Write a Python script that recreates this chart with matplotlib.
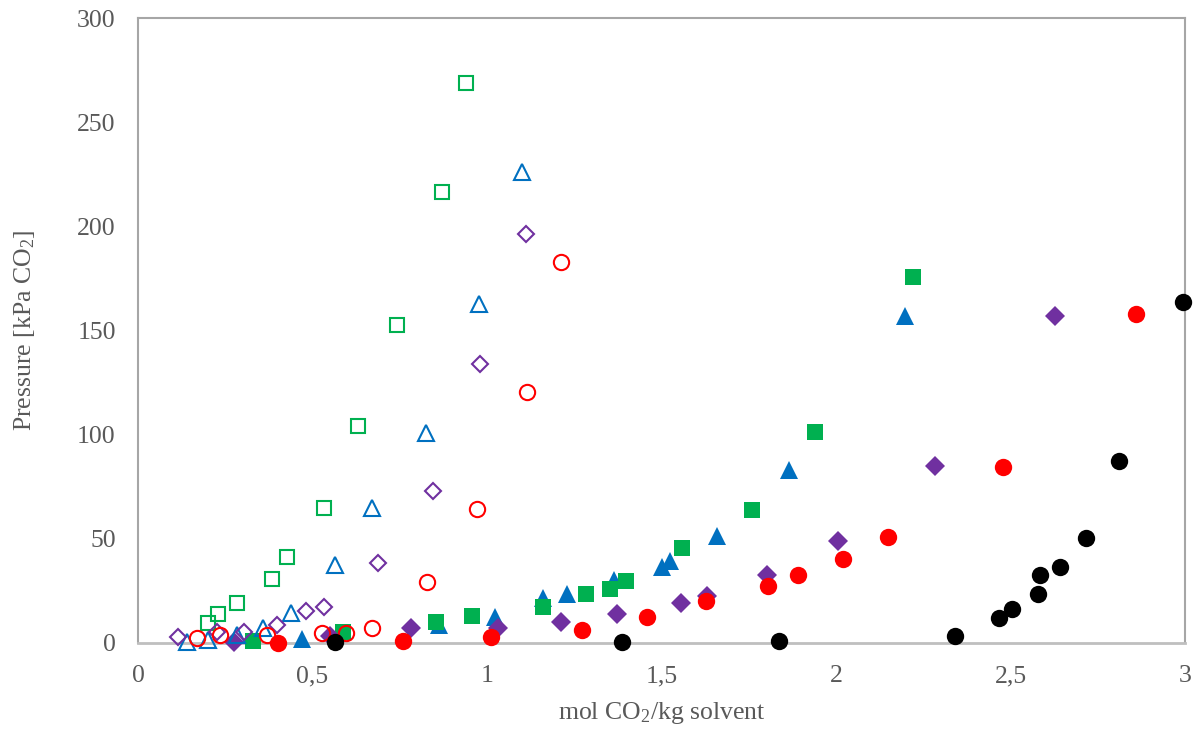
import matplotlib
matplotlib.use("Agg")
import matplotlib.pyplot as plt
from matplotlib.ticker import FixedLocator, FuncFormatter

plt.rcParams['font.family'] = ['Liberation Serif', 'DejaVu Serif']
plt.rcParams['mathtext.fontset'] = 'custom'
plt.rcParams['mathtext.rm'] = 'Liberation Serif'

# open symbols (lower loadings)
open_sq_x = [0.20, 0.229, 0.284, 0.384, 0.427, 0.533, 0.630, 0.742, 0.871, 0.940]
open_sq_p = [9.6, 13.9, 19.2, 30.7, 41.3, 64.8, 104.2, 152.6, 216.5, 268.8]

open_tri_x = [0.14, 0.20, 0.284, 0.358, 0.438, 0.565, 0.670, 0.825, 0.977, 1.100]
open_tri_p = [0.5, 1.4, 3.8, 7.2, 14.4, 37.4, 64.8, 100.8, 162.7, 226.0]

open_dia_x = [0.115, 0.227, 0.303, 0.397, 0.481, 0.533, 0.688, 0.845, 0.980, 1.112]
open_dia_p = [2.9, 5.3, 5.3, 8.6, 15.4, 17.3, 38.4, 73.0, 134.0, 196.3]

open_cir_x = [0.169, 0.235, 0.370, 0.527, 0.596, 0.670, 0.828, 0.971, 1.115, 1.212]
open_cir_p = [2.4, 3.8, 3.8, 4.8, 4.8, 7.2, 29.3, 64.3, 120.5, 182.9]

# filled symbols
tri_x = [0.470, 0.862, 1.023, 1.160, 1.229, 1.364, 1.501, 1.524, 1.659, 1.865, 2.198]
tri_p = [2.0, 8.5, 12.5, 21.6, 23.5, 30.2, 36.5, 39.4, 51.4, 83.0, 157.0]

sq_x = [0.330, 0.587, 0.854, 0.957, 1.160, 1.284, 1.352, 1.398, 1.559, 1.759, 1.940, 2.221]
sq_p = [1.0, 5.3, 10.1, 13.0, 17.3, 23.5, 25.9, 29.8, 45.6, 63.8, 101.3, 175.7]

dia_x = [0.275, 0.55, 0.782, 1.032, 1.212, 1.372, 1.556, 1.630, 1.802, 2.006, 2.284, 2.628]
dia_p = [0.5, 3.4, 7.2, 7.2, 10.1, 13.9, 19.2, 22.6, 32.6, 49.0, 85.0, 157.0]

cir_x = [0.401, 0.759, 1.011, 1.272, 1.458, 1.628, 1.805, 1.891, 2.020, 2.149, 2.479, 2.860]
cir_p = [0.0, 1.0, 2.9, 6.2, 12.5, 20.2, 27.4, 32.6, 40.3, 50.9, 84.5, 157.9]

blk_x = [0.564, 1.387, 1.837, 2.341, 2.467, 2.504, 2.579, 2.585, 2.642, 2.716, 2.811, 2.994]
blk_p = [0.5, 0.5, 1.0, 3.4, 12.0, 16.3, 23.5, 32.6, 36.5, 50.4, 87.4, 163.7]

GREEN = '#00B050'
BLUE = '#0070C0'
PURPLE = '#7030A0'
RED = '#FF0000'
BLACK = '#000000'

fig = plt.figure(figsize=(12.02, 7.32), dpi=100)
ax = fig.add_axes([0.1148, 0.1216, 0.8711, 0.8538])

ax.plot(tri_x, tri_p, '^', color=BLUE, ms=13, mew=0, zorder=3, clip_on=False)
ax.plot(sq_x, sq_p, 's', color=GREEN, ms=12, mew=0, zorder=4, clip_on=False)
ax.plot(dia_x, dia_p, 'D', color=PURPLE, ms=10, mew=0, zorder=5, clip_on=False)
ax.plot(cir_x, cir_p, 'o', color=RED, ms=12.5, mew=0, zorder=6, clip_on=False)

ax.plot(open_sq_x, open_sq_p, 's', mfc='none', mec=GREEN, ms=10.5, mew=1.5, zorder=7, clip_on=False)
ax.plot(open_tri_x, open_tri_p, '^', mfc='none', mec=BLUE, ms=12, mew=1.5, zorder=8, clip_on=False)
ax.plot(open_dia_x, open_dia_p, 'D', mfc='none', mec=PURPLE, ms=8.5, mew=1.5, zorder=9, clip_on=False)
ax.plot(open_cir_x, open_cir_p, 'o', mfc='none', mec=RED, ms=11, mew=1.5, zorder=10, clip_on=False)

ax.plot(blk_x, blk_p, 'o', color=BLACK, ms=12.5, mew=0, zorder=11, clip_on=False)

ax.set_xlim(0, 3)
ax.set_ylim(0, 300)
ax.xaxis.set_major_locator(FixedLocator([0, 0.5, 1, 1.5, 2, 2.5, 3]))
ax.yaxis.set_major_locator(FixedLocator([0, 50, 100, 150, 200, 250, 300]))
ax.xaxis.set_major_formatter(FuncFormatter(lambda v, pos: ('%g' % v).replace('.', ',')))

ax.tick_params(length=0, labelsize=18.5, labelcolor='#595959')
ax.tick_params(axis='x', pad=16)
ax.tick_params(axis='y', pad=16)

for s in ['top', 'right', 'left']:
    ax.spines[s].set_color('#A6A6A6')
    ax.spines[s].set_linewidth(1.5)
ax.spines['bottom'].set_color('#BFBFBF')
ax.spines['bottom'].set_linewidth(2)

ax.set_xlabel(r'mol CO$\mathregular{_2}$/kg solvent', fontsize=18.5, color='#595959', labelpad=9)
ax.set_ylabel(r'Pressure [kPa CO$\mathregular{_2}$]', fontsize=18.5, color='#595959', labelpad=29)

fig.savefig('out.png', dpi=100)
